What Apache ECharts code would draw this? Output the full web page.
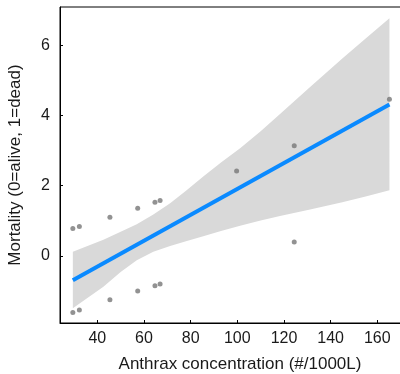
<!DOCTYPE html>
<html><head><meta charset="utf-8">
<script src="https://cdn.jsdelivr.net/npm/echarts@6/dist/echarts.min.js"></script>
<style>html,body{margin:0;padding:0;background:#fff}#c{width:400px;height:374px}</style>
</head><body><div id="c"></div>
<script>
// Observed points
const pointX = [29.5, 29.5, 32.3, 32.3, 45.4, 45.4, 57.3, 57.3, 64.7, 64.7, 66.9, 66.9, 99.7, 124.4, 124.4, 165.2];
const pointY = [-1.61, 0.78, -1.54, 0.84, -1.25, 1.10, -1.00, 1.36, -0.85, 1.53, -0.80, 1.58, 2.42, 3.14, 0.40, 4.46];
// Fitted line ends
const lineX = [29.5, 165.2];
const lineY = [-0.69, 4.31];
// Confidence band edges
const bandX = [29.5, 42.6, 50, 56.9, 64, 71.2, 78, 85.4, 93, 101.2, 110, 118.3, 131.2, 145, 155, 165.2];
const bandUpper = [0.12, 0.46, 0.69, 0.90, 1.18, 1.50, 1.86, 2.26, 2.66, 3.07, 3.55, 4.04, 4.81, 5.62, 6.19, 6.77];
const bandLower = [-1.49, -0.88, -0.46, -0.12, 0.12, 0.28, 0.42, 0.56, 0.71, 0.86, 1.01, 1.14, 1.32, 1.53, 1.69, 1.87];
const xTicks = [40, 60, 80, 100, 120, 140, 160];
const yTicks = [0, 2, 4, 6];

const chart = echarts.init(document.getElementById('c'), null, {renderer: 'canvas'});
const font = 'Liberation Sans, Arial, sans-serif';
const option = {
  animation: false,
  grid: {left: 60, right: -20, top: 7, bottom: 51, containLabel: false, outerBoundsMode: 'none',
         show: true, borderColor: '#000', borderWidth: 1, backgroundColor: 'transparent'},
  xAxis: {
    type: 'value', min: 24, max: 178.3,
    name: 'Anthrax concentration (#/1000L)', nameLocation: 'middle', nameGap: 33,
    nameTextStyle: {fontFamily: font, fontSize: 17, color: '#1a1a1a'},
    axisLine: {show: true, onZero: false, lineStyle: {color: '#000', width: 1}},
    axisTick: {show: true, inside: true, length: 3, lineStyle: {color: '#000'}, customValues: xTicks},
    axisLabel: {fontFamily: font, fontSize: 16, color: '#1a1a1a', margin: 8, customValues: xTicks},
    splitLine: {show: false}
  },
  yAxis: {
    type: 'value', min: -1.91, max: 7.09,
    name: 'Mortality (0=alive, 1=dead)', nameLocation: 'middle', nameGap: 36,
    nameTextStyle: {fontFamily: font, fontSize: 17, color: '#1a1a1a'},
    axisLine: {show: true, onZero: false, lineStyle: {color: '#000', width: 1}},
    axisTick: {show: true, inside: true, length: 3, lineStyle: {color: '#000'}, customValues: yTicks},
    axisLabel: {fontFamily: font, fontSize: 16, color: '#1a1a1a', margin: 10, customValues: yTicks},
    splitLine: {show: false}
  },
  series: [
    {
      type: 'custom', z: 1, silent: true,
      data: [[bandX[0], bandLower[0]]],
      renderItem: function (params, api) {
        const pts = [];
        for (let i = 0; i < bandX.length; i++) pts.push(api.coord([bandX[i], bandUpper[i]]));
        for (let i = bandX.length - 1; i >= 0; i--) pts.push(api.coord([bandX[i], bandLower[i]]));
        return {type: 'polygon', shape: {points: pts}, style: {fill: '#d9d9d9', stroke: null}};
      }
    },
    {
      type: 'scatter', z: 3, symbolSize: 5,
      itemStyle: {color: '#777777'},
      data: pointX.map((x, i) => [x, pointY[i]])
    },
    {
      type: 'line', z: 4, symbol: 'none',
      lineStyle: {color: '#0a8aff', width: 4},
      data: lineX.map((x, i) => [x, lineY[i]])
    }
  ]
};
chart.setOption(option);
</script></body></html>
